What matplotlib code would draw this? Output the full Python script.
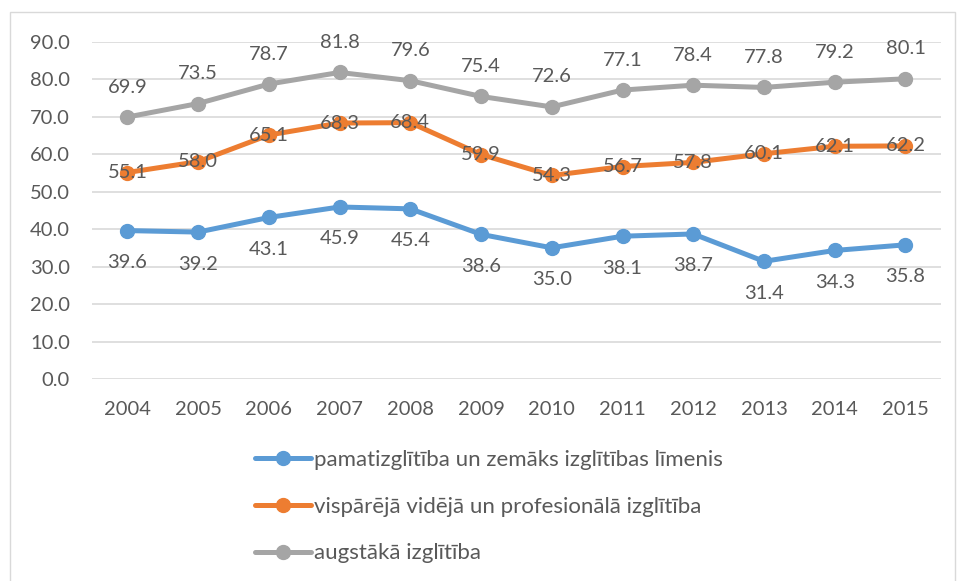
"""
Izglītības līmeņu līniju diagramma (2004-2015)
"""

import matplotlib.pyplot as plt
from matplotlib.patches import Rectangle

plt.rcParams["font.family"] = ["Lato", "DejaVu Sans"]

YEARS = ["2004", "2005", "2006", "2007", "2008", "2009",
         "2010", "2011", "2012", "2013", "2014", "2015"]

PAMAT = [39.6, 39.2, 43.1, 45.9, 45.4, 38.6, 35.0, 38.1, 38.7, 31.4, 34.3, 35.8]
VIDEJA = [55.1, 58.0, 65.1, 68.3, 68.4, 59.9, 54.3, 56.7, 57.8, 60.1, 62.1, 62.2]
AUGST = [69.9, 73.5, 78.7, 81.8, 79.6, 75.4, 72.6, 77.1, 78.4, 77.8, 79.2, 80.1]

LABELS = ["pamatizglītība un zemāks izglītības līmenis",
          "vispārējā vidējā un profesionālā izglītība",
          "augstākā izglītība"]

TEXT_COLOR = "#595959"
COLORS = ["#5B9BD5", "#ED7D31", "#A5A5A5"]

fig = plt.figure(figsize=(9.57, 5.81), dpi=100)
ax = fig.add_axes([0.0961, 0.3477, 0.887, 0.5805])

# rāmis ap visu attēlu
fig.patches.append(Rectangle((10 / 957, -0.01), 945 / 957, 1 - 12 / 581 + 0.01,
                             transform=fig.transFigure, fill=False,
                             edgecolor="#D9D9D9", linewidth=1))

x = list(range(len(YEARS)))
series = [PAMAT, VIDEJA, AUGST]
offsets = [-32, 0, 30]
for vals, color, label, off in zip(series, COLORS, LABELS, offsets):
    ax.plot(x, vals, color=color, linewidth=3.6, marker="o", markersize=10,
            solid_capstyle="round", label=label, zorder=3)
    for xi, v in zip(x, vals):
        ax.annotate(f"{v:.1f}", (xi, v), xytext=(0, off), textcoords="offset pixels",
                    ha="center", va="center", fontsize=14.5, color=TEXT_COLOR,
                    zorder=4)

ax.set_xlim(-0.5, len(YEARS) - 0.5)
ax.set_ylim(0, 90)
ax.set_yticks(range(0, 91, 10))
ax.set_yticklabels([f"{v:.1f}" for v in range(0, 91, 10)])
ax.set_xticks(x)
ax.set_xticklabels(YEARS)
ax.tick_params(length=0, labelsize=14.5, labelcolor=TEXT_COLOR)
ax.tick_params(axis="y", pad=16)
ax.tick_params(axis="x", pad=16)
ax.grid(axis="y", color="#D9D9D9", linewidth=1.2)
ax.set_axisbelow(True)
for s in ax.spines.values():
    s.set_visible(False)

leg = fig.legend(loc="upper left", bbox_to_anchor=(255 / 957, 1 - 450 / 581),
                 frameon=False, fontsize=16, handlelength=2.5, handletextpad=0.15,
                 labelspacing=1.2, borderpad=0, borderaxespad=0)
for t in leg.get_texts():
    t.set_color(TEXT_COLOR)

fig.savefig("out.png", dpi=100)
